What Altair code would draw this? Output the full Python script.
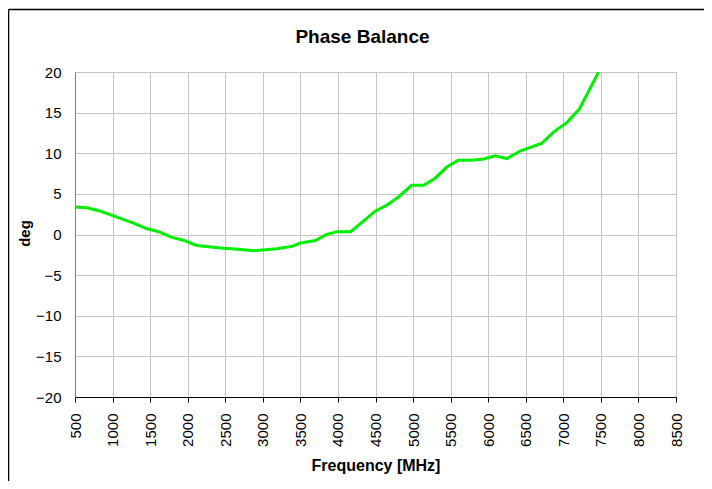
import altair as alt
import pandas as pd

# Frequency (MHz) and phase balance (deg)
freq = [500, 660, 830, 1010, 1280, 1460, 1630, 1790, 1940, 2120, 2470, 2590,
        2880, 3190, 3390, 3500, 3700, 3850, 3990, 4170, 4500, 4650, 4810,
        4980, 5140, 5290, 5450, 5600, 5780, 5940, 6090, 6250, 6430, 6710,
        6870, 7050, 7210, 7470]
phase = [3.4, 3.3, 2.9, 2.3, 1.4, 0.7, 0.3, -0.35, -0.7, -1.35, -1.7, -1.75,
         -2.0, -1.75, -1.45, -1.05, -0.75, 0.0, 0.35, 0.35, 2.9, 3.6, 4.65,
         6.05, 6.05, 6.9, 8.3, 9.15, 9.15, 9.3, 9.7, 9.35, 10.3, 11.2,
         12.6, 13.8, 15.4, 20.0]

x_ticks = list(range(500, 8501, 500))
y_ticks = list(range(-20, 21, 5))

FONT = "Liberation Sans"
W, H = 601, 325

df = pd.DataFrame({"freq": freq, "phase": phase})

line = alt.Chart(df).mark_line(color="#00f000", strokeWidth=3, clip=True).encode(
    x=alt.X("freq:Q",
            scale=alt.Scale(domain=[500, 8500], nice=False, zero=False),
            axis=alt.Axis(values=x_ticks, title="Frequency [MHz]", format="d",
                          labelAngle=-90, labelFontSize=15, labelFont=FONT,
                          labelColor="#000000", labelPadding=11,
                          tickSize=5, tickColor="#000000",
                          domainColor="#000000", domainWidth=1,
                          gridColor="#c4c4c4", gridWidth=1,
                          titleFont=FONT, titleFontSize=16, titleFontWeight="bold",
                          titleColor="#000000", titleBaseline="alphabetic",
                          titleY=73, labelFlush=False, labelOverlap=False)),
    y=alt.Y("phase:Q",
            scale=alt.Scale(domain=[-20, 20], nice=False, zero=False),
            axis=alt.Axis(values=y_ticks, title="deg",
                          labelFontSize=15, labelFont=FONT, labelColor="#000000",
                          labelPadding=14, ticks=False,
                          domainColor="#808080", domainWidth=1,
                          gridColor="#c4c4c4", gridWidth=1,
                          titleFont=FONT, titleFontSize=15, titleFontWeight="bold",
                          titleColor="#000000", titleBaseline="alphabetic",
                          titleX=-46, titleY=161, titleAngle=-90,
                          labelFlush=False, labelOverlap=False)),
)

frame_df = pd.DataFrame({"k": [0]})
left_rule = alt.Chart(frame_df).mark_rule(color="#000000", strokeWidth=1.5).encode(
    x=alt.value(-66.5), x2=alt.value(-66.5),
    y=alt.value(-62.5), y2=alt.value(H + 90))
top_rule = alt.Chart(frame_df).mark_rule(color="#000000", strokeWidth=1.5).encode(
    x=alt.value(-66.5), x2=alt.value(W + 40),
    y=alt.value(-62.5), y2=alt.value(-62.5))

chart = alt.layer(line, left_rule, top_rule).properties(
    width=W, height=H,
    title=alt.TitleParams("Phase Balance", font=FONT, fontSize=19,
                          fontWeight="bold", color="#000000",
                          anchor="middle", frame="group",
                          baseline="alphabetic", offset=0, dy=53.5, dx=-13),
    padding={"left": 67, "top": 64, "right": 28, "bottom": 84},
    autosize=alt.AutoSizeParams(type="none"),
).configure_view(stroke="#808080", strokeWidth=1)

chart.save("out.html", embed_options={"renderer": "svg", "actions": False})
